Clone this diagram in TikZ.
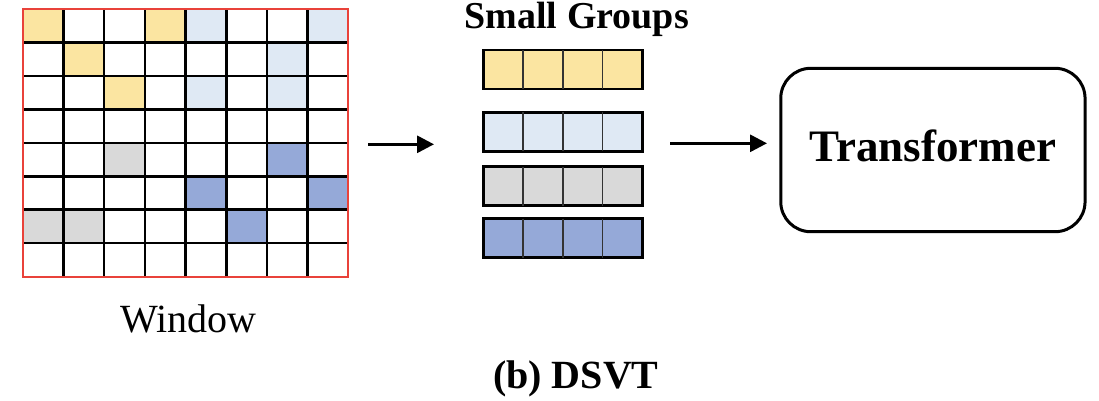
\documentclass[tikz,border=0pt]{standalone}
\usepackage{fontspec}
\setmainfont{Liberation Serif}
\usetikzlibrary{arrows.meta}
\definecolor{cy}{HTML}{FBE5A1}
\definecolor{cl}{HTML}{DFE9F4}
\definecolor{cg}{HTML}{D9D9D9}
\definecolor{cb}{HTML}{95A9D8}
\definecolor{cred}{HTML}{E9423A}
\begin{document}
\begin{tikzpicture}[x=1pt,y=-1pt,
  gridline/.style={black,line width=2.6pt},
  group/.style={draw=black,line width=2.6pt,minimum width=159pt,minimum height=39pt,inner sep=0pt,outer sep=0pt,anchor=north west},
  divider/.style={black!80,line width=1.5pt},
  arr/.style={line width=3pt,-{Triangle[length=17pt,width=17pt]}},
  lbl/.style={anchor=base,inner sep=0pt}]
\useasboundingbox (0,0) rectangle (1099,400);
% window cells
\foreach \r/\c/\col in {0/0/cy,0/3/cy,1/1/cy,2/2/cy,
                        0/4/cl,0/7/cl,1/6/cl,2/4/cl,2/6/cl,
                        4/2/cg,6/0/cg,6/1/cg,
                        4/6/cb,5/4/cb,5/7/cb,6/5/cb}
  \fill[\col] (22.7+\c*40.7, 9.3+\r*33.4) rectangle ++(40.7,33.4);
\foreach \i in {1,...,7} {
  \draw[gridline] (22.7+\i*40.7, 9.3) -- ++(0,267.4);
  \draw[gridline] (22.7, 9.3+\i*33.4) -- ++(325.6,0);
}
\node[draw=cred,line width=2.2pt,minimum width=325.6pt,minimum height=267.4pt,inner sep=0pt,outer sep=0pt,anchor=north west] (window) at (22.7,9.3) {};
\node[lbl,font=\fontsize{40}{44}\selectfont] (wlabel) at (188.3,332.7) {Window};
% small groups
\node[lbl,font=\fontsize{38}{42}\selectfont\bfseries] (sglabel) at (576.7,28.3) {Small Groups};
\node[group,fill=cy] (g1) at (483.3,50) {};
\node[group,fill=cl] (g2) at (483.3,112.4) {};
\node[group,fill=cg] (g3) at (483.3,166.7) {};
\node[group,fill=cb] (g4) at (483.3,218.5) {};
\foreach \g in {g1,g2,g3,g4}
  \foreach \k in {1,2,3}
    \draw[divider] ([xshift=\k*39.75pt]\g.north west) -- ([xshift=\k*39.75pt]\g.south west);
% transformer
\node[draw=black,line width=3pt,rounded corners=30pt,minimum width=304.3pt,minimum height=163.4pt,
      inner sep=0pt,text height=23.4pt,text depth=0pt,font=\fontsize{45}{50}\selectfont\bfseries] (tf) at (932.9,150) {Transformer};
% arrows
\coordinate (a1s) at (368,144.3);
\coordinate (a1e) at (434,144.3);
\coordinate (a2s) at (670,143.3);
\coordinate (a2e) at (767,143.3);
\draw[arr] (a1s) -- (a1e);
\draw[arr] (a2s) -- (a2e);
% caption
\node[lbl,font=\fontsize{40}{44}\selectfont\bfseries] (cap) at (575.8,388.3) {(b) DSVT};
\end{tikzpicture}
\end{document}
